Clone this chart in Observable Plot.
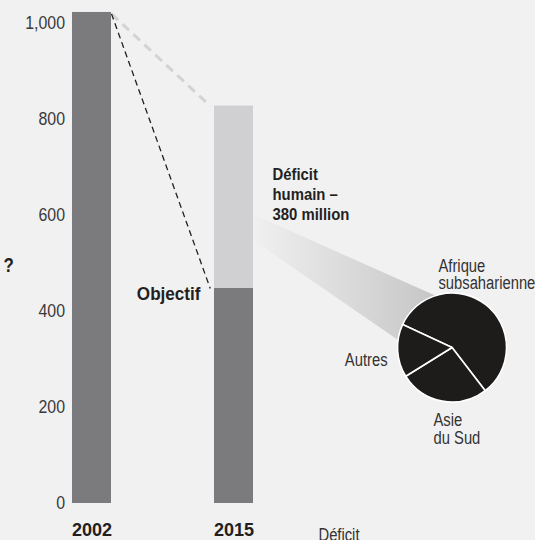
<!DOCTYPE html>
<html><head><meta charset="utf-8">
<script src="https://cdn.jsdelivr.net/npm/d3@7"></script>
<script src="https://cdn.jsdelivr.net/npm/@observablehq/plot@0.6"></script>
<style>
html,body{margin:0;padding:0;background:#f1f1f1;}
#chart{width:535px;height:540px;overflow:hidden;}
</style></head><body><div id="chart"></div>
<script>
// ---- data ----
const years = ["2002", "2015"];
const baseValues = [1023, 448];      // millions (2002 level, 2015 objectif)
const deficitValues = [0, 380];      // déficit humain
const yTicks = [0, 200, 400, 600, 800, 1000];
const regionNames = ["Afrique subsaharienne", "Asie du Sud", "Autres"];
const regionValues = [219, 101, 60]; // share of the 380 million
const annotationTexts = ["Déficit\nhumain –\n380 million", "Objectif", "?", "Déficit"];

// ---- styles ----
const DARK = "#7b7b7d", LIGHT = "#d0d0d2", INK = "#231f20", PIE = "#1e1b1b";
const HW = 0.1373;                    // bar half-width in slot units
const FONT = "'Liberation Sans',Arial,sans-serif";

// bar segments
const segments = [];
years.forEach((yr, i) => {
  segments.push({slot: i, y1: 0, y2: baseValues[i], fill: DARK});
  if (deficitValues[i] > 0) segments.push({slot: i, y1: baseValues[i], y2: baseValues[i] + deficitValues[i], fill: LIGHT});
});

// connectors from 2002 top to 2015 segment tops
const connectors = [
  {x1: 0 + HW, y1: baseValues[0] - 3, x2: 1 - HW - 0.03, y2: baseValues[1] + deficitValues[1], stroke: "#d3d3d3", w: 3, dash: "9,6"},
  {x1: 0 + HW, y1: baseValues[0] - 3, x2: 1 - HW - 0.03, y2: baseValues[1], stroke: INK, w: 1.3, dash: "6,4"}
];

// pie placement (slot units / value units)
const pieCenter = {x: 2.539, y: 324};
const PIE_R = 54.5;
const PIE_START = -65 * Math.PI / 180;

// wedge from déficit segment to pie
const wedge = [
  {x: 1 + HW, y: 602},
  {x: 2.433, y: 431},
  {x: pieCenter.x, y: pieCenter.y},
  {x: 2.158, y: 340},
  {x: 1 + HW, y: 548}
];

function defsMark() {
  const defs = d3.create("svg:defs");
  const g = defs.append("linearGradient").attr("id", "wedgeGrad").attr("x1", "0%").attr("x2", "100%").attr("y1", "0%").attr("y2", "0%");
  g.append("stop").attr("offset", "0%").attr("stop-color", "#f0f0f0");
  g.append("stop").attr("offset", "100%").attr("stop-color", "#c2c2c2");
  return defs.node();
}

function pieMark(index, scales) {
  const cx = scales.x(pieCenter.x), cy = scales.y(pieCenter.y);
  const arcs = d3.pie().sort(null).startAngle(PIE_START).endAngle(PIE_START + 2 * Math.PI)(regionValues);
  const arc = d3.arc().innerRadius(0).outerRadius(PIE_R);
  const g = d3.create("svg:g").attr("transform", `translate(${cx},${cy})`);
  g.selectAll("path").data(arcs).join("path")
    .attr("d", arc).attr("fill", PIE)
    .attr("stroke", "#ffffff").attr("stroke-width", 1.6).attr("stroke-linejoin", "round");
  g.selectAll("path").append("title").text((d, i) => `${regionNames[i]}: ${regionValues[i]}`);
  return g.node();
}

const REGTXT = {fontSize: 18, fill: "#333", fontFamily: FONT, ariaDescription: "sx:0.82"};

const plot = Plot.plot({
  width: 535,
  height: 540,
  marginLeft: 0,
  marginRight: 0,
  marginTop: 23,
  marginBottom: 37,
  x: {type: "linear", domain: [-0.6444, 3.1232], axis: null},
  y: {domain: [0, 1000], axis: null},
  style: {background: "#f1f1f1", overflow: "visible", fontFamily: FONT},
  marks: [
    defsMark,
    // wedge
    Plot.line(wedge, {x: "x", y: "y", fill: "url(#wedgeGrad)", stroke: "none", curve: "linear"}),
    // bars
    Plot.rect(segments, {x1: d => d.slot - HW, x2: d => d.slot + HW, y1: "y1", y2: "y2", fill: d => d.fill}),
    // connectors
    Plot.link([connectors[0]], {x1: "x1", y1: "y1", x2: "x2", y2: "y2", stroke: connectors[0].stroke, strokeWidth: connectors[0].w, strokeDasharray: connectors[0].dash}),
    Plot.link([connectors[1]], {x1: "x1", y1: "y1", x2: "x2", y2: "y2", stroke: connectors[1].stroke, strokeWidth: connectors[1].w, strokeDasharray: connectors[1].dash}),
    // pie
    pieMark,
    // y tick labels
    Plot.text(yTicks, {x: () => -HW, y: d => d, text: d => d3.format(",")(d), textAnchor: "end", dx: -7.5, fontSize: 18.5, fill: "#3a3a3a", fontFamily: FONT, ariaDescription: "sx:0.86"}),
    // year labels
    Plot.text(years, {x: (d, i) => i, y: 0, text: d => d, lineAnchor: "bottom", dy: 32, fontSize: 19, fontWeight: "bold", fill: INK, fontFamily: FONT, ariaDescription: "sx:0.95"}),
    // annotations
    Plot.text([annotationTexts[0]], {x: 1.271, y: 589.6, text: d => d, textAnchor: "start", lineAnchor: "bottom", lineHeight: 1.25, fontSize: 16, fontWeight: "bold", fill: INK, fontFamily: FONT, ariaDescription: "sx:0.93"}),
    Plot.text([annotationTexts[1]], {x: 0.764, y: 423, text: d => d, textAnchor: "end", lineAnchor: "bottom", fontSize: 19, fontWeight: "bold", fill: INK, fontFamily: FONT, ariaDescription: "sx:0.9"}),
    Plot.text([annotationTexts[2]], {x: -0.623, y: 483, text: d => d, textAnchor: "start", lineAnchor: "bottom", fontSize: 21, fontWeight: "bold", fill: INK, fontFamily: FONT, ariaDescription: "sx:0.8"}),
    Plot.text([annotationTexts[3]], {x: 1.595, y: 0, text: d => d, textAnchor: "start", lineAnchor: "bottom", dy: 37.5, ...REGTXT}),
    // pie labels
    Plot.text(["Afrique\nsubsaharienne"], {x: 2.440, y: 446, text: d => d, textAnchor: "start", lineAnchor: "bottom", lineHeight: 0.95, ...REGTXT}),
    Plot.text(["Asie\ndu Sud"], {x: 2.405, y: 123, text: d => d, textAnchor: "start", lineAnchor: "bottom", lineHeight: 1.0, ...REGTXT}),
    Plot.text(["Autres"], {x: 2.081, y: 287.5, text: d => d, textAnchor: "end", lineAnchor: "bottom", ...REGTXT})
  ]
});

document.getElementById("chart").appendChild(plot);

// horizontally condense text (the original uses a condensed face) via textLength
plot.querySelectorAll("g[aria-description^='sx:']").forEach(g => {
  const s = +g.getAttribute("aria-description").slice(3);
  g.querySelectorAll("text, tspan").forEach(t => {
    if (t.querySelector("tspan")) return;
    const w = t.getComputedTextLength();
    if (w > 0) {
      t.setAttribute("textLength", (w * s).toFixed(2));
      t.setAttribute("lengthAdjust", "spacingAndGlyphs");
    }
  });
  g.removeAttribute("aria-description");
});
</script>
</body></html>
